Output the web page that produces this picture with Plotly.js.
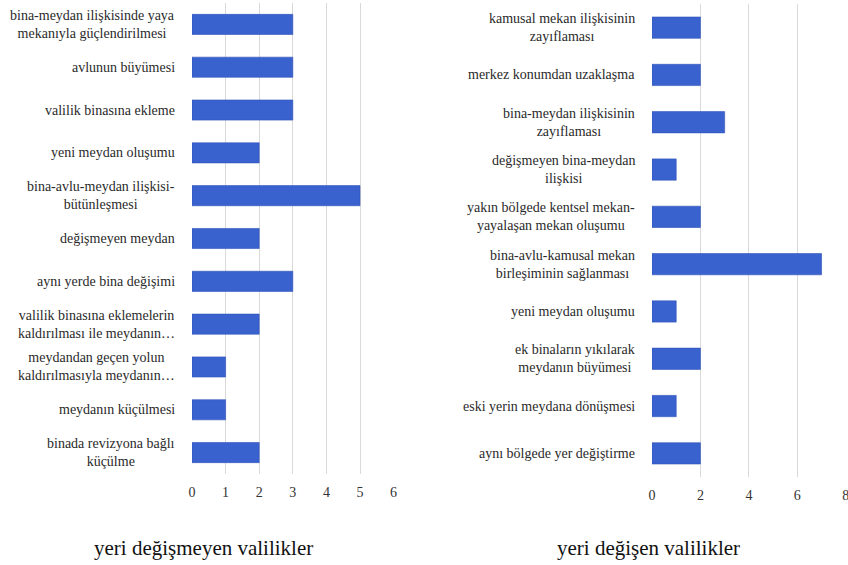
<!DOCTYPE html>
<html>
<head>
<meta charset="utf-8">
<script src="https://cdn.plot.ly/plotly-3.0.1.min.js"></script>
</head>
<body style="margin:0;background:#fff">
<div id="chart" style="width:848px;height:565px"></div>
<script>
// Left chart: yeri değişmeyen valilikler
const leftCategories = [
  "bina-meydan ilişkisinde yaya<br>mekanıyla güçlendirilmesi",
  "avlunun büyümesi",
  "valilik binasına ekleme",
  "yeni meydan oluşumu",
  "bina-avlu-meydan ilişkisi-<br>bütünleşmesi",
  "değişmeyen meydan",
  "aynı yerde bina değişimi",
  "valilik binasına eklemelerin<br>kaldırılması ile meydanın…",
  "meydandan geçen yolun<br>kaldırılmasıyla meydanın…",
  "meydanın küçülmesi",
  "binada revizyona bağlı<br>küçülme"
];
const leftValues = [3, 3, 3, 2, 5, 2, 3, 2, 1, 1, 2];
const leftTicks = [0, 1, 2, 3, 4, 5, 6];
const leftTitle = "yeri değişmeyen valilikler";

// Right chart: yeri değişen valilikler
const rightCategories = [
  "kamusal mekan ilişkisinin<br>zayıflaması",
  "merkez konumdan uzaklaşma",
  "bina-meydan ilişkisinin<br>zayıflaması",
  "değişmeyen bina-meydan<br>ilişkisi",
  "yakın bölgede kentsel mekan-<br>yayalaşan mekan oluşumu",
  "bina-avlu-kamusal mekan<br>birleşiminin sağlanması",
  "yeni meydan oluşumu",
  "ek binaların yıkılarak<br>meydanın büyümesi",
  "eski yerin meydana dönüşmesi",
  "aynı bölgede yer değiştirme"
];
const rightValues = [2, 2, 3, 1, 2, 7, 1, 2, 1, 2];
const rightTicks = [0, 2, 4, 6, 8];
const rightTitle = "yeri değişen valilikler";

const FONT = "Liberation Serif";
const barColor = "#3a62cf";
const W = 848, H = 565;

const traces = [
  {type:"bar", orientation:"h", x:leftValues, y:leftCategories, xaxis:"x", yaxis:"y",
   width:0.47, marker:{color:barColor, line:{color:"#2f53b8", width:0.6}}, hoverinfo:"x+y"},
  {type:"bar", orientation:"h", x:rightValues, y:rightCategories, xaxis:"x2", yaxis:"y2",
   width:0.45, marker:{color:barColor, line:{color:"#2f53b8", width:0.6}}, hoverinfo:"x+y"}
];

const annotations = [];
leftCategories.forEach(c => annotations.push({
  text:c, xref:"paper", yref:"y", x:177/W, y:c, xanchor:"right", yanchor:"middle",
  align:"center", showarrow:false, font:{family:FONT, size:14, color:"#2a2a2a"}
}));
rightCategories.forEach(c => annotations.push({
  text:c, xref:"paper", yref:"y2", x:637/W, y:c, xanchor:"right", yanchor:"middle",
  align:"center", showarrow:false, font:{family:FONT, size:14, color:"#2a2a2a"}
}));
annotations.push({text:leftTitle, xref:"paper", yref:"paper", x:203/W, y:1-548/H,
  xanchor:"center", yanchor:"middle", showarrow:false, font:{family:FONT, size:21, color:"#111"}});
annotations.push({text:rightTitle, xref:"paper", yref:"paper", x:648/W, y:1-548/H,
  xanchor:"center", yanchor:"middle", showarrow:false, font:{family:FONT, size:21, color:"#111"}});

const xCommon = {showgrid:true, gridcolor:"#d9d9d9", gridwidth:1, zeroline:false, showline:false,
  ticks:"", tickfont:{family:FONT, size:14, color:"#333"}, fixedrange:true, ticklabeloverflow:"allow"};
const yCommon = {type:"category", categoryorder:"array", showgrid:false, zeroline:false,
  showline:false, ticks:"", showticklabels:false, fixedrange:true};

const layout = {
  width:W, height:H, margin:{l:0, r:0, t:0, b:0},
  font:{family:FONT},
  paper_bgcolor:"#fff", plot_bgcolor:"#fff", showlegend:false,
  xaxis: Object.assign({}, xCommon, {domain:[192/W, 393.6/W], range:[0,6], tickvals:leftTicks,
    anchor:"y", ticklabelstandoff:8}),
  yaxis: Object.assign({}, yCommon, {domain:[1-474/H, 1-3/H], categoryarray:leftCategories,
    range:[leftCategories.length-0.5, -0.5], anchor:"x"}),
  xaxis2: Object.assign({}, xCommon, {domain:[652/W, 846/W], range:[0,8.01], tickvals:rightTicks,
    anchor:"y2", ticklabelstandoff:8}),
  yaxis2: Object.assign({}, yCommon, {domain:[1-477/H, 1-4/H], categoryarray:rightCategories,
    range:[rightCategories.length-0.5, -0.5], anchor:"x2"}),
  annotations: annotations
};

Plotly.newPlot("chart", traces, layout, {displayModeBar:false, staticPlot:true});
</script>
</body>
</html>
